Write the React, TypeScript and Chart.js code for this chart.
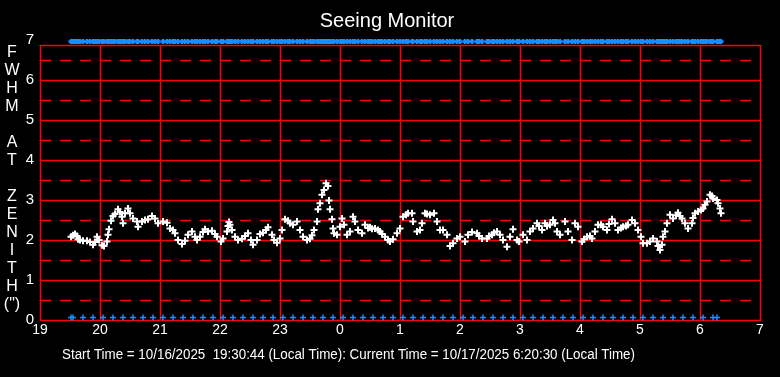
import React, { useEffect, useRef } from 'react';
import { Chart, registerables } from 'chart.js';

Chart.register(...registerables);

const FONT = "'Liberation Sans', Arial, Helvetica, sans-serif";

// Axis definitions (x in minutes after 19:00 local time)
const xTickMinutes = [0, 60, 120, 180, 240, 300, 360, 420, 480, 540, 600, 660, 720];
const hourLabels = ['19', '20', '21', '22', '23', '0', '1', '2', '3', '4', '5', '6', '7'];
const yTicks = [0, 1, 2, 3, 4, 5, 6, 7];
const ySolidGrid = [0, 1, 2, 3, 4, 5, 6];
const yDashedGrid = [0.5, 1.5, 2.5, 3.5, 4.5, 5.5, 6.5];
const frameTop = 6.875;

const titleText = 'Seeing Monitor';
const yLabelLetters = ['F', 'W', 'H', 'M', '', 'A', 'T', '', 'Z', 'E', 'N', 'I', 'T', 'H', '(")'];
const footerText =
  'Start Time = 10/16/2025  19:30:44 (Local Time): Current Time = 10/17/2025 6:20:30 (Local Time)';

// Seeing samples: minutes after 19:00, FWHM at zenith (arcsec)
const fwhmMinutes = [
  31, 33, 35, 37, 38, 40, 43, 47, 50, 53, 55, 57, 59, 62, 64, 67, 68, 69, 71, 73,
  75, 78, 80, 82, 83, 85, 88, 90, 93, 97, 98, 102, 105, 108, 112, 115, 118, 123, 127, 130,
  133, 135, 138, 142, 145, 148, 152, 155, 157, 160, 163, 165, 168, 172, 175, 177, 181, 183, 187, 188,
  189, 190, 192, 195, 198, 202, 205, 208, 211, 213, 217, 220, 223, 226, 228, 232, 234, 237, 240, 242,
  245, 248, 250, 253, 257, 260, 263, 267, 270, 272, 274, 277, 278, 280, 282, 284, 286, 288, 289, 290,
  292, 293, 294, 297, 300, 302, 304, 307, 310, 313, 315, 318, 322, 325, 328, 330, 332, 335, 338, 340,
  342, 345, 348, 350, 353, 357, 360, 363, 366, 368, 372, 373, 377, 380, 382, 385, 387, 390, 394, 397,
  400, 403, 407, 410, 413, 417, 420, 425, 428, 432, 437, 439, 442, 447, 449, 452, 454, 457, 460, 463,
  467, 470, 473, 477, 479, 483, 487, 490, 493, 497, 499, 502, 505, 507, 510, 513, 515, 517, 520, 525,
  528, 532, 535, 538, 542, 544, 547, 550, 552, 555, 558, 561, 563, 567, 569, 572, 575, 578, 581, 583,
  586, 588, 592, 595, 598, 601, 603, 607, 610, 613, 617, 618, 620, 622, 623, 625, 627, 630, 633, 636,
  638, 640, 642, 645, 648, 652, 653, 655, 658, 661, 663, 665, 667, 670, 672, 673, 677, 678, 680, 681,
];
const fwhmValues = [
  2.08, 2.12, 2.15, 2.1, 2.02, 2.0, 1.98, 1.98, 1.95, 1.88, 1.95, 2.08, 2.0, 1.87, 1.85, 1.96, 2.13, 2.27, 2.48, 2.6,
  2.65, 2.77, 2.7, 2.58, 2.42, 2.67, 2.79, 2.67, 2.54, 2.46, 2.33, 2.46, 2.5, 2.52, 2.6, 2.54, 2.42, 2.46, 2.43, 2.29,
  2.25, 2.17, 2.0, 1.9, 1.98, 2.13, 2.21, 2.08, 2.0, 2.08, 2.2, 2.27, 2.21, 2.23, 2.15, 2.08, 1.96, 2.04, 2.21, 2.35,
  2.45, 2.38, 2.25, 2.08, 2.0, 2.03, 2.1, 2.17, 2.0, 1.88, 2.0, 2.15, 2.18, 2.25, 2.32, 2.13, 2.0, 1.93, 2.04, 2.25,
  2.52, 2.48, 2.42, 2.38, 2.46, 2.25, 2.08, 2.0, 2.03, 2.12, 2.25, 2.46, 2.77, 2.92, 3.13, 3.25, 3.42, 3.35, 2.99, 2.77,
  2.52, 2.29, 2.17, 2.13, 2.33, 2.54, 2.38, 2.13, 2.21, 2.58, 2.46, 2.25, 2.17, 2.38, 2.3, 2.32, 2.28, 2.29, 2.25, 2.21,
  2.15, 2.08, 2.0, 1.96, 2.02, 2.17, 2.29, 2.58, 2.63, 2.67, 2.67, 2.46, 2.21, 2.25, 2.42, 2.67, 2.65, 2.63, 2.67, 2.46,
  2.25, 2.25, 2.13, 1.85, 1.92, 2.04, 2.08, 1.96, 2.13, 2.2, 2.17, 2.1, 2.04, 2.04, 2.1, 2.13, 2.18, 2.21, 2.13, 2.0,
  1.83, 2.08, 2.27, 2.0, 1.96, 2.13, 2.0, 2.21, 2.29, 2.42, 2.35, 2.25, 2.42, 2.35, 2.38, 2.5, 2.42, 2.21, 2.13, 2.46,
  2.21, 2.0, 2.42, 2.33, 1.96, 2.02, 2.08, 2.1, 2.04, 2.21, 2.38, 2.38, 2.33, 2.25, 2.4, 2.52, 2.42, 2.25, 2.3, 2.33,
  2.35, 2.38, 2.5, 2.42, 2.25, 2.08, 1.92, 1.92, 1.96, 2.04, 1.96, 1.85, 1.75, 1.88, 2.08, 2.21, 2.42, 2.63, 2.54, 2.62,
  2.68, 2.6, 2.54, 2.42, 2.29, 2.42, 2.55, 2.67, 2.71, 2.75, 2.79, 2.88, 2.96, 3.13, 3.1, 3.04, 3.0, 2.92, 2.79, 2.67,
];

// Status flags (blue): top row for every sample, bottom row every 10 minutes
const topFlagValue = 6.96;
const bottomMarkerMinutes = [
  31, 33, 43, 53, 63, 73, 83, 93, 103, 113, 123, 133, 143, 153, 163, 173, 183, 193, 203, 213,
  223, 233, 243, 253, 263, 273, 283, 293, 303, 313, 323, 333, 343, 353, 363, 373, 383, 393, 403, 413,
  423, 433, 443, 453, 463, 473, 483, 493, 503, 513, 523, 533, 543, 553, 563, 573, 583, 593, 603, 613,
  623, 633, 643, 653, 663, 673, 677,
];
const bottomFlagValue = 0.06;

const WHITE = '#ffffff';
const BLUE = '#1e8cff';
const RED = '#ff0000';

const decorPlugin = {
  id: 'decor',
  beforeDraw(chart: any) {
    const { ctx, width, height } = chart;
    ctx.save();
    ctx.fillStyle = '#000';
    ctx.fillRect(0, 0, width, height);
    ctx.restore();
  },
  beforeDatasetsDraw(chart: any) {
    const { ctx, scales } = chart;
    const x = scales.x;
    const y = scales.y;
    const left = Math.round(x.getPixelForValue(xTickMinutes[0]));
    const right = Math.round(x.getPixelForValue(xTickMinutes[xTickMinutes.length - 1]));
    const bottom = Math.round(y.getPixelForValue(0));
    const top = Math.round(y.getPixelForValue(frameTop));
    ctx.save();
    ctx.strokeStyle = RED;
    ctx.lineWidth = 1.5;
    // dashed half-unit lines
    ctx.setLineDash([11, 9]);
    yDashedGrid.forEach((v) => {
      const py = Math.round(y.getPixelForValue(v)) + 0.5;
      ctx.beginPath();
      ctx.moveTo(left, py);
      ctx.lineTo(right, py);
      ctx.stroke();
    });
    ctx.setLineDash([]);
    ySolidGrid.forEach((v) => {
      const py = Math.round(y.getPixelForValue(v)) + 0.5;
      ctx.beginPath();
      ctx.moveTo(left, py);
      ctx.lineTo(right + 1, py);
      ctx.stroke();
    });
    // frame top
    ctx.beginPath();
    ctx.moveTo(left, top + 0.5);
    ctx.lineTo(right + 1, top + 0.5);
    ctx.stroke();
    xTickMinutes.forEach((m) => {
      const px = Math.round(x.getPixelForValue(m)) + 0.5;
      ctx.beginPath();
      ctx.moveTo(px, top);
      ctx.lineTo(px, bottom + 1);
      ctx.stroke();
    });
    ctx.restore();
  },
  afterDraw(chart: any) {
    const { ctx } = chart;
    ctx.save();
    ctx.fillStyle = WHITE;
    ctx.textAlign = 'center';
    ctx.textBaseline = 'middle';
    ctx.font = `20px ${FONT}`;
    ctx.fillText(titleText, 387, 21);
    ctx.font = `16px ${FONT}`;
    yLabelLetters.forEach((ch, i) => {
      if (ch) ctx.fillText(ch, 12, 53 + i * 18);
    });
    ctx.textAlign = 'left';
    ctx.font = `14px ${FONT}`;
    ctx.fillText(footerText, 62, 355, 573);
    ctx.restore();
  },
};

export default function App() {
  const canvasRef = useRef<HTMLCanvasElement | null>(null);

  useEffect(() => {
    document.body.style.margin = '0';
    document.body.style.background = '#000';
    const canvas = canvasRef.current;
    if (!canvas) return;

    const fwhmPoints = fwhmMinutes.map((m, i) => ({ x: m, y: fwhmValues[i] }));
    const topPoints = fwhmMinutes.map((m) => ({ x: m, y: topFlagValue }));
    const bottomPoints = bottomMarkerMinutes.map((m) => ({ x: m, y: bottomFlagValue }));

    const chart = new Chart(canvas, {
      type: 'scatter',
      data: {
        datasets: [
          {
            label: 'top flags',
            data: topPoints,
            pointStyle: 'cross',
            pointRadius: 2.5,
            borderWidth: 2.5,
            borderColor: BLUE,
            backgroundColor: BLUE,
            clip: false,
          },
          {
            label: 'bottom flags',
            data: bottomPoints,
            pointStyle: 'cross',
            pointRadius: 3,
            borderWidth: 1.5,
            borderColor: BLUE,
            backgroundColor: BLUE,
            clip: false,
          },
          {
            label: 'FWHM',
            data: fwhmPoints,
            pointStyle: 'cross',
            pointRadius: 3.5,
            borderWidth: 2,
            borderColor: WHITE,
            backgroundColor: WHITE,
            clip: false,
          },
        ],
      },
      options: {
        animation: false,
        responsive: false,
        devicePixelRatio: 1,
        layout: { padding: { top: 40, right: 20, left: 0, bottom: 0 } },
        plugins: {
          legend: { display: false },
          tooltip: { enabled: false },
          title: { display: false },
        },
        scales: {
          x: {
            type: 'linear',
            min: xTickMinutes[0],
            max: xTickMinutes[xTickMinutes.length - 1],
            afterBuildTicks: (s: any) => {
              s.ticks = xTickMinutes.map((v) => ({ value: v }));
            },
            afterFit: (s: any) => {
              s.height = 57;
            },
            ticks: {
              color: WHITE,
              font: { family: FONT, size: 14 },
              padding: 2,
              maxRotation: 0,
              autoSkip: false,
              callback: (v: any) => hourLabels[xTickMinutes.indexOf(Number(v))],
            },
            grid: { display: false, drawTicks: false },
            border: { display: false },
          },
          y: {
            type: 'linear',
            min: yTicks[0],
            max: yTicks[yTicks.length - 1],
            afterBuildTicks: (s: any) => {
              s.ticks = yTicks.map((v) => ({ value: v }));
            },
            afterFit: (s: any) => {
              s.width = 40;
            },
            ticks: {
              color: WHITE,
              font: { family: FONT, size: 15 },
              padding: 6,
              autoSkip: false,
            },
            grid: { display: false, drawTicks: false },
            border: { display: false },
          },
        },
      },
      plugins: [decorPlugin],
    });

    return () => chart.destroy();
  }, []);

  return (
    <div style={{ position: 'absolute', left: 0, top: 0, width: 780, height: 377, background: '#000' }}>
      <canvas ref={canvasRef} width={780} height={377} style={{ display: 'block', width: 780, height: 377 }} />
    </div>
  );
}
